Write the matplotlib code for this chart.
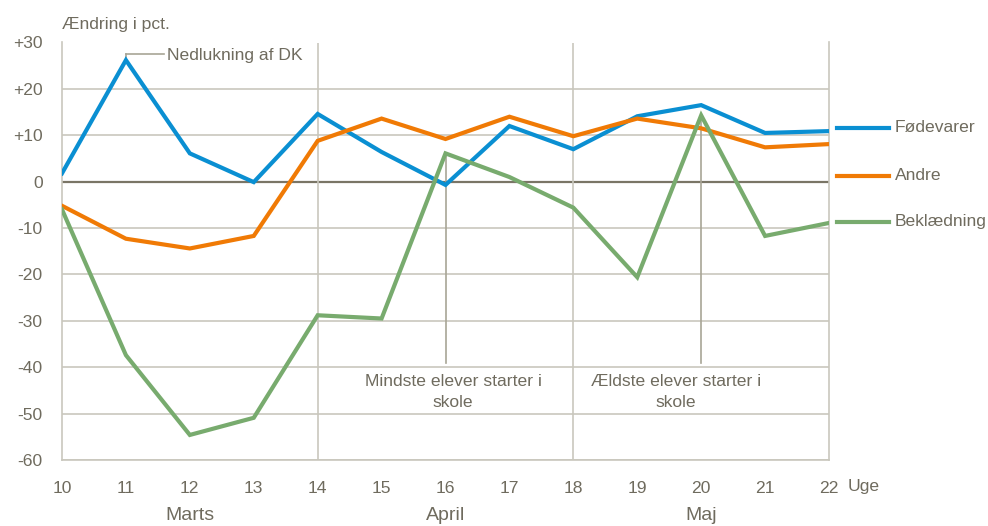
import matplotlib
matplotlib.use("Agg")
import matplotlib.pyplot as plt
from matplotlib import font_manager

weeks = [10, 11, 12, 13, 14, 15, 16, 17, 18, 19, 20, 21, 22]
fodevarer = [1.8, 26.2, 6.1, -0.1, 14.6, 6.4, -0.7, 12.0, 7.0, 14.1, 16.5, 10.5, 10.9]
andre = [-5.2, -12.3, -14.4, -11.7, 8.8, 13.6, 9.2, 14.0, 9.8, 13.6, 11.5, 7.4, 8.1]
beklaedning = [-6.0, -37.4, -54.6, -50.9, -28.8, -29.5, 6.1, 1.0, -5.6, -20.6, 14.3, -11.7, -8.9]
series_names = ["Fødevarer", "Andre", "Beklædning"]
yticks = [30, 20, 10, 0, -10, -20, -30, -40, -50, -60]
ytick_labels = ["+30", "+20", "+10", "0", "-10", "-20", "-30", "-40", "-50", "-60"]
months = ["Marts", "April", "Maj"]
month_pos = [12, 16, 20]

names = {f.name for f in font_manager.fontManager.ttflist}
fam = ["Liberation Sans Narrow"] if "Liberation Sans Narrow" in names else ["Liberation Sans"]
plt.rcParams["font.family"] = fam + ["DejaVu Sans"]

FS = 12.6
txt = "#6f6b5e"
grid = "#c9c7bd"
colors = ["#0a8fd2", "#f07a05", "#78ab6e"]

fig = plt.figure(figsize=(9.88, 5.26), dpi=100)
W, H = 988, 526
ax = fig.add_axes([62 / W, 1 - 460 / H, (829 - 62) / W, (460 - 42.5) / H])
ax.set_xlim(10, 22)
ax.set_ylim(-60, 30)

for y in yticks:
    if y == 0:
        ax.axhline(y, color="#7a7566", lw=1.6, zorder=1)
    else:
        ax.axhline(y, color=grid, lw=1.2, zorder=1)
for xv in [14, 18]:
    ax.axvline(xv, color=grid, lw=1.2, zorder=1)

ax.spines["top"].set_visible(False)
for sp in ["left", "right", "bottom"]:
    ax.spines[sp].set_color(grid)
    ax.spines[sp].set_linewidth(1.2)

for vals, c in zip([fodevarer, andre, beklaedning], colors):
    ax.plot(weeks, vals, color=c, lw=3, solid_joinstyle="miter", zorder=3)

ax.set_yticks(yticks)
ax.set_yticklabels(ytick_labels)
ax.set_xticks(weeks)
ax.set_xticklabels([str(w) for w in weeks])
ax.tick_params(length=0, labelsize=FS, colors=txt)
ax.tick_params(axis="x", pad=15)
ax.tick_params(axis="y", pad=14)

fig.text(62 / W, 1 - 24 / H, "Ændring i pct.", fontsize=FS, color=txt, va="center", ha="left")
fig.text(848 / W, 1 - 487 / H, "Uge", fontsize=FS, color=txt, va="center", ha="left")
for m, p in zip(months, month_pos):
    ax.text(p, -0.132, m, transform=ax.get_xaxis_transform(), fontsize=14, color=txt,
            ha="center", va="center")

lc = "#a8a596"
ax.plot([11, 11], [fodevarer[1], 27.5], color=lc, lw=1.2, zorder=2)
ax.plot([11, 11.6], [27.5, 27.5], color=lc, lw=1.2, zorder=2)
ax.text(11.65, 27.3, "Nedlukning af DK", fontsize=FS, color=txt, va="center", ha="left")

ax.plot([16, 16], [beklaedning[6], -39], color=lc, lw=1.2, zorder=2)
ax.text(16.12, -45.3, "Mindste elever starter i\nskole", fontsize=FS, color=txt,
        ha="center", va="center", linespacing=1.5)
ax.plot([20, 20], [beklaedning[10], -39], color=lc, lw=1.2, zorder=2)
ax.text(19.6, -45.3, "Ældste elever starter i\nskole", fontsize=FS, color=txt,
        ha="center", va="center", linespacing=1.5)

leg_y = [128, 176, 222]
for name, c, yy in zip(series_names, colors, leg_y):
    fig.add_artist(plt.Line2D([837 / W, 889 / W], [1 - yy / H, 1 - yy / H], color=c, lw=3,
                              transform=fig.transFigure))
    fig.text(895 / W, 1 - yy / H, name, fontsize=FS, color=txt, va="center", ha="left")

fig.savefig("out.png", dpi=100)
